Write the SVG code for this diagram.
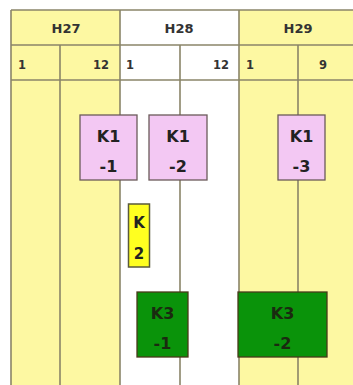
<svg xmlns="http://www.w3.org/2000/svg" width="353" height="385" viewBox="0 0 353 385">
<style>
.ln{stroke:#8a8468;stroke-width:1.6;fill:none}
.hd{font-family:"DejaVu Sans",Verdana,sans-serif;font-weight:bold;font-size:13px;fill:#333}
.num{font-family:"DejaVu Sans",Verdana,sans-serif;font-weight:bold;font-size:11.5px;fill:#333}
.bx{font-family:"DejaVu Sans",Verdana,sans-serif;font-weight:bold;font-size:16px;fill:#222;text-anchor:middle}
.pink{fill:#f3c8f3;stroke:#6b5a5a;stroke-width:1.3}
.green{fill:#0a930a;stroke:#4a3a1a;stroke-width:1.3}
.yel{fill:#ffff20;stroke:#5a5a3a;stroke-width:1.5}
</style>
<rect x="0" y="0" width="353" height="385" fill="#ffffff"/>
<g id="background">
<rect x="11" y="10" width="109" height="375" fill="#fdf8a2"/>
<rect x="120" y="10" width="119" height="375" fill="#ffffff"/>
<rect x="239" y="10" width="114" height="375" fill="#fdf8a2"/>
</g>
<g id="grid">
<line class="ln" x1="11" y1="10" x2="353" y2="10"/>
<line class="ln" x1="11" y1="45" x2="353" y2="45"/>
<line class="ln" x1="11" y1="80" x2="353" y2="80"/>
<line class="ln" x1="11" y1="10" x2="11" y2="385"/>
<line class="ln" x1="120" y1="10" x2="120" y2="385"/>
<line class="ln" x1="239" y1="10" x2="239" y2="385"/>
<line class="ln" x1="60" y1="45" x2="60" y2="385"/>
<line class="ln" x1="180" y1="45" x2="180" y2="385"/>
<line class="ln" x1="298" y1="45" x2="298" y2="385"/>
</g>
<g id="header">
<text class="hd" x="66" y="33" text-anchor="middle">H27</text>
<text class="hd" x="179" y="33" text-anchor="middle">H28</text>
<text class="hd" x="298" y="33" text-anchor="middle">H29</text>
<text class="num" x="18" y="69">1</text>
<text class="num" x="109" y="69" text-anchor="end">12</text>
<text class="num" x="126" y="69">1</text>
<text class="num" x="229" y="69" text-anchor="end">12</text>
<text class="num" x="246" y="69">1</text>
<text class="num" x="323" y="69" text-anchor="middle">9</text>
</g>
<g id="K1-1">
<rect class="pink" x="80" y="115" width="57" height="65"/>
<text class="bx" x="108.5" y="142">K1</text>
<text class="bx" x="108.5" y="172">-1</text>
</g>
<g id="K1-2">
<rect class="pink" x="149" y="115" width="58" height="65"/>
<text class="bx" x="178" y="142">K1</text>
<text class="bx" x="178" y="172">-2</text>
</g>
<g id="K1-3">
<rect class="pink" x="278" y="115" width="47" height="65"/>
<text class="bx" x="301.5" y="142">K1</text>
<text class="bx" x="301.5" y="172">-3</text>
</g>
<g id="K2">
<rect class="yel" x="128.5" y="204" width="21" height="63"/>
<text class="bx" x="139" y="228" style="font-size:15px">K</text>
<text class="bx" x="139" y="259" style="font-size:15px">2</text>
</g>
<g id="K3-1">
<rect class="green" x="137" y="292" width="51" height="65"/>
<text class="bx" x="162.5" y="319" style="fill:#1a2a10">K3</text>
<text class="bx" x="162.5" y="349" style="fill:#1a2a10">-1</text>
</g>
<g id="K3-2">
<rect class="green" x="238" y="292" width="89" height="65"/>
<text class="bx" x="282.5" y="319" style="fill:#1a2a10">K3</text>
<text class="bx" x="282.5" y="349" style="fill:#1a2a10">-2</text>
</g>
</svg>
